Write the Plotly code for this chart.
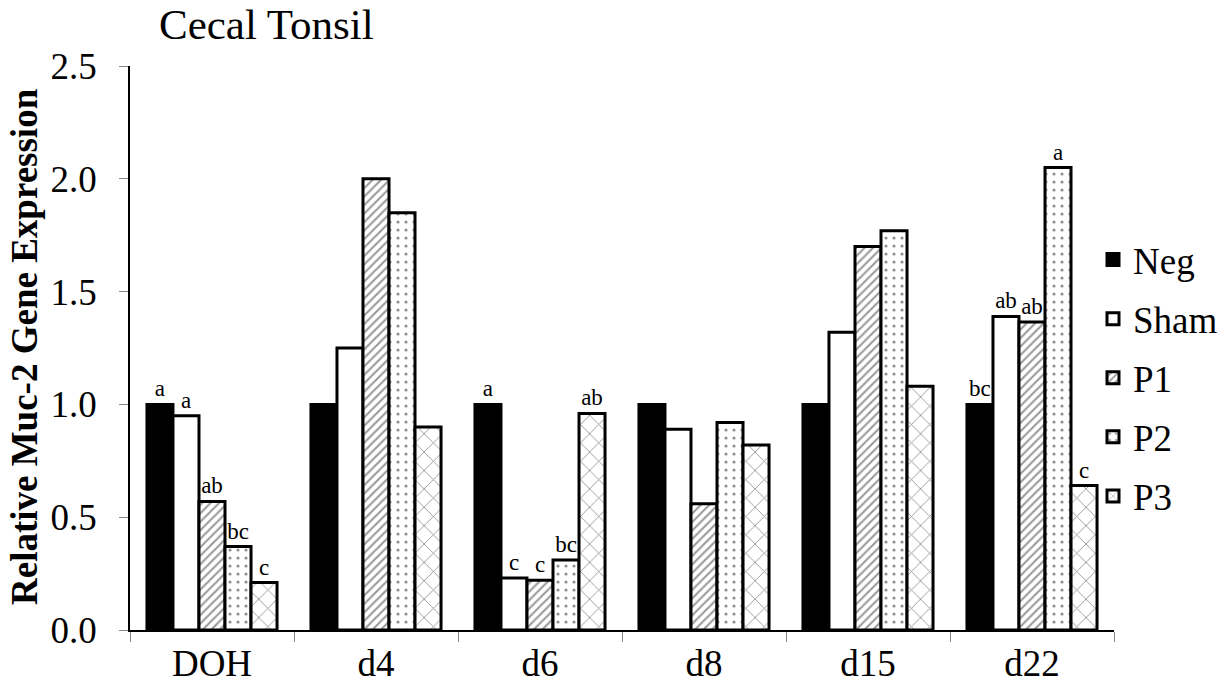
import plotly.graph_objects as go

# Sampling days (categories on the x axis)
days = ["DOH", "d4", "d6", "d8", "d15", "d22"]

# Relative Muc-2 gene expression per treatment group
neg = [1.00, 1.00, 1.00, 1.00, 1.00, 1.00]
sham = [0.95, 1.25, 0.23, 0.89, 1.32, 1.39]
p1 = [0.57, 2.00, 0.22, 0.56, 1.70, 1.365]
p2 = [0.37, 1.85, 0.31, 0.92, 1.77, 2.05]
p3 = [0.21, 0.90, 0.96, 0.82, 1.08, 0.64]

# Significance letters shown above the bars
neg_sig = ["a", "", "a", "", "", "bc"]
sham_sig = ["a", "", "c", "", "", "ab"]
p1_sig = ["ab", "", "c", "", "", "ab"]
p2_sig = ["bc", "", "bc", "", "", "a"]
p3_sig = ["c", "", "ab", "", "", "c"]

y_ticks = [0.0, 0.5, 1.0, 1.5, 2.0, 2.5]

FONT = "Liberation Serif"

series = [
    ("Neg", neg, neg_sig, dict(color="black")),
    ("Sham", sham, sham_sig, dict(color="white")),
    ("P1", p1, p1_sig, dict(color="white",
                            pattern=dict(shape="/", fgcolor="#333333", bgcolor="white",
                                         size=6, solidity=0.35))),
    ("P2", p2, p2_sig, dict(color="white",
                            pattern=dict(shape=".", fgcolor="#222222", bgcolor="white",
                                         size=8, solidity=0.12))),
    ("P3", p3, p3_sig, dict(color="white",
                            pattern=dict(shape="x", fgcolor="#333333", bgcolor="white",
                                         size=13, solidity=0.14))),
]

fig = go.Figure()
for name, vals, sig, mk in series:
    marker = dict(line=dict(color="black", width=3), **mk)
    fig.add_trace(go.Bar(
        name=name,
        x=days,
        y=vals,
        marker=marker,
        text=sig,
        textposition="outside",
        textfont=dict(family=FONT, size=23, color="black"),
        constraintext="none",
        cliponaxis=False,
        legendgroup=name,
    ))

fig.update_layout(
    width=1228,
    height=692,
    margin=dict(l=130, r=114, t=66, b=62, autoexpand=False),
    paper_bgcolor="white",
    plot_bgcolor="white",
    barmode="group",
    bargap=0.207,
    bargroupgap=0,
    font=dict(family=FONT, color="black"),
    showlegend=True,
    legend=dict(
        x=(1093 - 130) / 984, xanchor="left",
        y=0.711, yanchor="top",
        font=dict(family=FONT, size=37, color="black"),
        traceorder="grouped",
        tracegroupgap=8,
        bgcolor="rgba(0,0,0,0)",
    ),
)

fig.update_xaxes(
    type="category",
    showline=True, linecolor="black", linewidth=1.5,
    ticks="outside", tickson="boundaries", ticklen=10, tickcolor="#888888", tickwidth=1,
    tickfont=dict(family=FONT, size=37, color="black"),
    showgrid=False, zeroline=False,
)

fig.update_yaxes(
    range=[0, 2.5],
    tickvals=y_ticks,
    ticktext=[f"{v:.1f}" for v in y_ticks],
    showline=True, linecolor="black", linewidth=1.5,
    ticks="outside", ticklen=9, tickcolor="#888888", tickwidth=1,
    tickfont=dict(family=FONT, size=37, color="black"),
    ticklabelstandoff=15,
    showgrid=False, zeroline=False,
)

# Chart title and vertical axis title
fig.add_annotation(
    text="Cecal Tonsil", xref="paper", yref="paper",
    x=(157 - 130) / 984, y=1.0, xanchor="left", yanchor="bottom", yshift=16,
    showarrow=False, font=dict(family=FONT, size=43, color="black"),
)
fig.add_annotation(
    text="<b>Relative Muc-2 Gene Expression</b>", xref="paper", yref="paper",
    x=(24 - 130) / 984, y=(630 - 347) / 564, xanchor="center", yanchor="middle",
    textangle=-90, showarrow=False, font=dict(family=FONT, size=37, color="black"),
)

fig.write_html("out.html")
